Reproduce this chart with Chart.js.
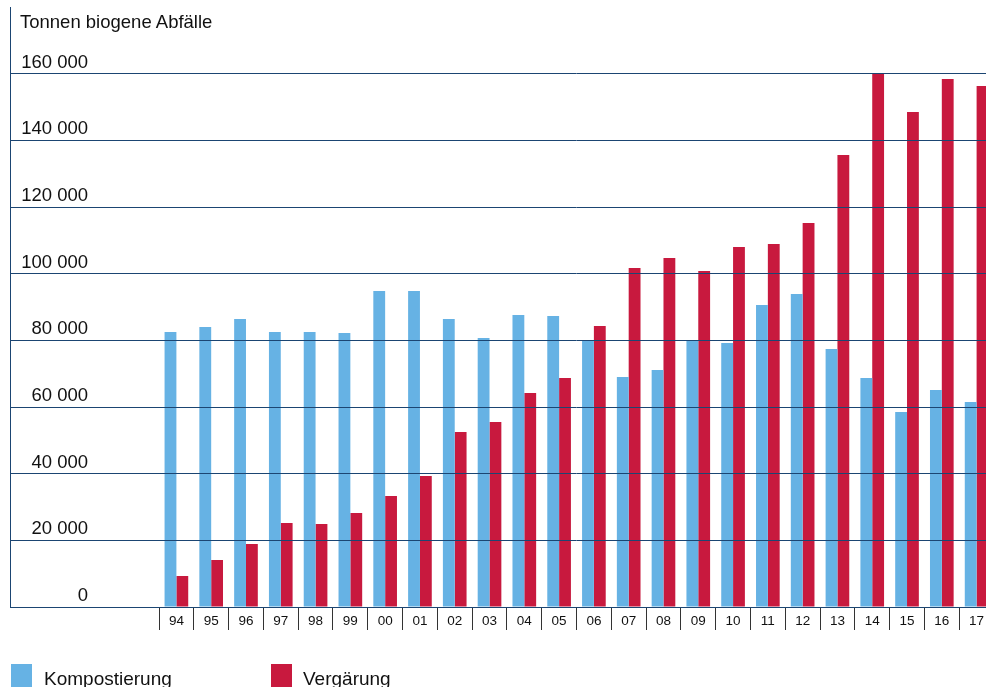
<!DOCTYPE html>
<html>
<head>
<meta charset="utf-8">
<script src="https://cdn.jsdelivr.net/npm/chart.js@4"></script>
<style>
  html, body { margin: 0; padding: 0; background: #fff; overflow: hidden; }
  #wrap { position: relative; width: 994px; height: 687px; }
  .txt { position: absolute; font-family: "Liberation Sans", Arial, sans-serif; font-size: 18.5px; line-height: 18px; color: #111; white-space: nowrap; }
  .leg { font-size: 19px; }
  .box { position: absolute; width: 21px; height: 23px; }
</style>
</head>
<body>
<div id="wrap">
  <canvas id="chart"></canvas>
  <div class="txt" style="left:20px; top:13px;">Tonnen biogene Abfälle</div>
  <div class="box" style="left:11px; top:664px; background:#66b2e4;"></div>
  <div class="txt leg" style="left:44px; top:670px;">Kompostierung</div>
  <div class="box" style="left:271px; top:664px; background:#c8193e;"></div>
  <div class="txt leg" style="left:303px; top:670px;">Vergärung</div>
</div>
<script>
  // ---------- Data ----------
  const years = ['94', '95', '96', '97', '98', '99', '00', '01', '02', '03', '04', '05',
                 '06', '07', '08', '09', '10', '11', '12', '13', '14', '15', '16', '17'];
  const kompostierung = [82500, 84000, 86400, 82500, 82500, 82200, 94800, 94800, 86400, 80700, 87600, 87300,
                         79800, 69000, 71100, 79800, 79200, 90600, 93900, 77400, 68700, 58500, 65100, 61500];
  const vergaerung = [9300, 14100, 18900, 25200, 24900, 28200, 33300, 39300, 52500, 55500, 64200, 68700,
                      84300, 101700, 104700, 100800, 108000, 108900, 115200, 135600, 160200, 148500, 158400, 156300];
  const yTicks = [0, 20000, 40000, 60000, 80000, 100000, 120000, 140000, 160000];

  const navy = '#1b4572';
  const font = { family: '"Liberation Sans", Arial, sans-serif', size: 18.5 };

  // left frame line of the plot
  const leftLine = {
    id: 'leftLine',
    afterDraw(chart) {
      const y = chart.scales.y;
      const ctx = chart.ctx;
      ctx.save();
      ctx.strokeStyle = navy;
      ctx.lineWidth = 1;
      ctx.beginPath();
      ctx.moveTo(y.left + 0.5, y.top);
      ctx.lineTo(y.left + 0.5, y.bottom);
      ctx.stroke();
      ctx.restore();
    }
  };

  function fmt(v) {
    return String(v).replace(/\B(?=(\d{3})+(?!\d))/g, ' ');
  }

  new Chart(document.getElementById('chart'), {
    type: 'bar',
    data: {
      labels: years,
      datasets: [
        { label: 'Kompostierung', data: kompostierung, backgroundColor: '#66b2e4' },
        { label: 'Vergärung', data: vergaerung, backgroundColor: '#c8193e' }
      ]
    },
    options: {
      responsive: true,
      maintainAspectRatio: false,
      animation: false,
      datasets: { bar: { categoryPercentage: 0.68, barPercentage: 1.0 } },
      layout: { padding: { left: 10, right: 0, top: 7, bottom: 55 } },
      plugins: { legend: { display: false }, tooltip: { enabled: false } },
      scales: {
        x: {
          border: { display: false },
          grid: { offset: true, drawOnChartArea: false, drawTicks: true, tickLength: 23, color: '#333', lineWidth: 1 },
          ticks: { color: '#111', font: { family: font.family, size: 13.5 }, padding: -17, maxRotation: 0, autoSkip: false },
          afterFit(s) { s.height = 25; s.paddingLeft = 0; s.paddingRight = 0; }
        },
        y: {
          min: 0,
          max: 180000,
          border: { display: false },
          grid: { color: navy, lineWidth: 1, tickLength: 149, z: 1 },
          afterBuildTicks(s) { s.ticks = yTicks.concat([180000]).map(v => ({ value: v })); },
          ticks: {
            color: '#111',
            font: font,
            padding: -78,
            labelOffset: -11,
            callback: v => (yTicks.includes(v) ? fmt(v) : null)
          },
          afterFit(s) { s.width = 149; s.paddingTop = 0; s.paddingBottom = 0; }
        }
      }
    },
    plugins: [leftLine]
  });
</script>
</body>
</html>
